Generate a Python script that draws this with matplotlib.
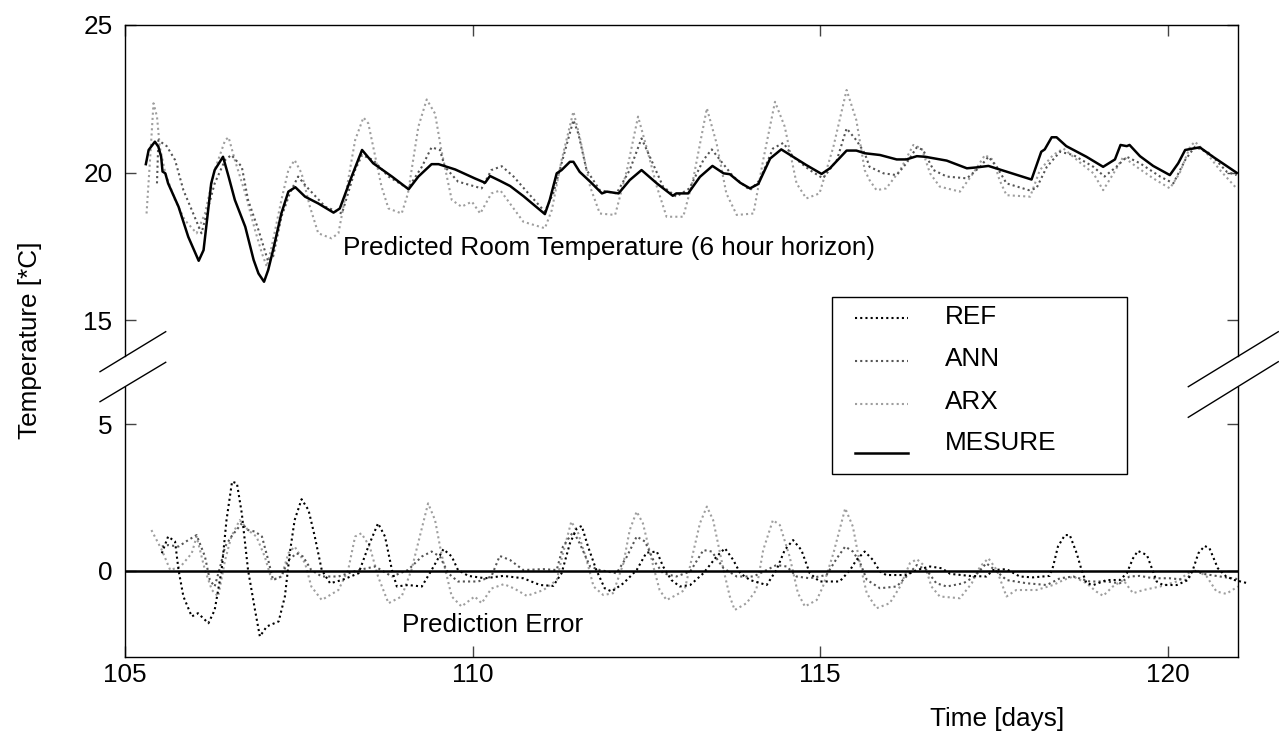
import matplotlib
matplotlib.use("Agg")
import matplotlib.pyplot as plt
from matplotlib.lines import Line2D
from matplotlib.patches import Rectangle

plt.rcParams['font.family'] = ['Liberation Sans', 'DejaVu Sans']

# ---- data: (day, value) ----
measure = [(105.30, 20.29), (105.34, 20.77), (105.43, 21.05), (105.48, 20.88), (105.52, 20.54),
           (105.54, 20.04), (105.58, 19.98), (105.62, 19.64), (105.77, 18.85), (105.91, 17.83),
           (106.06, 17.02), (106.13, 17.38), (106.18, 18.40), (106.24, 19.64), (106.29, 20.09),
           (106.41, 20.54), (106.49, 19.87), (106.58, 19.08), (106.73, 18.17), (106.85, 17.05),
           (106.92, 16.59), (107.00, 16.31), (107.06, 16.71), (107.13, 17.38), (107.25, 18.63),
           (107.35, 19.36), (107.45, 19.51), (107.59, 19.19), (107.78, 18.96), (108.00, 18.65),
           (108.09, 18.79), (108.26, 19.87), (108.41, 20.77), (108.57, 20.32), (108.84, 19.87),
           (109.08, 19.44), (109.22, 19.87), (109.41, 20.29), (109.51, 20.29), (109.75, 20.11),
           (110.03, 19.81), (110.18, 19.66), (110.25, 19.89), (110.39, 19.73), (110.54, 19.55),
           (110.73, 19.21), (111.04, 18.60), (111.11, 19.08), (111.21, 19.98), (111.28, 20.09),
           (111.40, 20.37), (111.45, 20.37), (111.54, 20.03), (111.69, 19.70), (111.86, 19.30),
           (111.93, 19.36), (112.10, 19.30), (112.26, 19.75), (112.43, 20.09), (112.65, 19.64),
           (112.88, 19.22), (112.93, 19.30), (113.10, 19.30), (113.27, 19.86), (113.45, 20.23),
           (113.61, 19.98), (113.70, 19.95), (113.85, 19.66), (113.99, 19.47), (114.11, 19.62),
           (114.28, 20.48), (114.44, 20.79), (114.61, 20.54), (114.80, 20.26), (115.02, 19.96),
           (115.14, 20.15), (115.38, 20.75), (115.52, 20.75), (115.64, 20.66), (115.86, 20.60),
           (116.10, 20.45), (116.24, 20.45), (116.39, 20.56), (116.51, 20.54), (116.82, 20.41),
           (117.11, 20.15), (117.25, 20.18), (117.42, 20.23), (117.73, 20.00), (118.04, 19.77),
           (118.18, 20.71), (118.23, 20.79), (118.33, 21.20), (118.40, 21.20), (118.54, 20.90),
           (118.83, 20.54), (119.07, 20.20), (119.24, 20.45), (119.32, 20.94), (119.41, 20.90),
           (119.45, 20.94), (119.60, 20.56), (119.79, 20.23), (120.03, 19.92), (120.15, 20.32),
           (120.25, 20.77), (120.46, 20.86), (120.65, 20.54), (120.99, 20.00)]

ann = [(105.46, 19.64), (105.48, 21.10), (105.60, 20.90), (105.72, 20.43), (105.84, 19.41),
       (105.96, 18.74), (106.10, 17.95), (106.20, 18.85), (106.29, 19.64), (106.44, 20.43),
       (106.53, 20.60), (106.68, 20.20), (106.77, 19.08), (106.92, 18.06), (107.06, 16.99),
       (107.13, 17.16), (107.25, 18.51), (107.37, 19.30), (107.49, 19.87), (107.61, 19.53),
       (107.88, 18.85), (108.12, 18.62), (108.31, 20.09), (108.41, 20.60), (108.57, 20.43),
       (108.79, 19.87), (109.07, 19.47), (109.27, 20.20), (109.41, 20.86), (109.53, 20.77),
       (109.60, 20.20), (109.79, 19.70), (110.13, 19.47), (110.27, 20.09), (110.42, 20.22),
       (110.59, 19.87), (110.78, 19.36), (111.04, 18.68), (111.16, 19.30), (111.28, 20.32),
       (111.45, 21.78), (111.52, 21.33), (111.64, 20.09), (111.83, 19.41), (112.07, 19.30),
       (112.26, 20.09), (112.43, 21.16), (112.55, 20.54), (112.74, 19.53), (112.93, 19.19),
       (113.12, 19.47), (113.32, 20.43), (113.44, 20.79), (113.56, 20.43), (113.75, 19.87),
       (113.99, 19.41), (114.13, 19.75), (114.32, 20.82), (114.47, 21.01), (114.61, 20.54),
       (114.85, 20.09), (115.04, 19.81), (115.24, 20.43), (115.38, 21.50), (115.52, 21.10),
       (115.64, 20.66), (115.71, 20.20), (115.91, 19.98), (116.10, 19.92), (116.24, 20.32),
       (116.39, 20.86), (116.48, 20.77), (116.63, 20.09), (116.82, 19.87), (117.11, 19.81),
       (117.30, 20.20), (117.42, 20.54), (117.54, 20.20), (117.68, 19.64), (118.00, 19.41),
       (118.11, 19.47), (118.26, 20.20), (118.45, 20.71), (118.64, 20.60), (118.93, 20.20),
       (119.09, 19.87), (119.26, 20.20), (119.41, 20.54), (119.60, 20.32), (119.89, 19.87),
       (120.08, 19.64), (120.25, 20.43), (120.39, 20.88), (120.60, 20.66), (120.85, 20.03),
       (120.99, 19.92)]

arx = [(105.31, 18.62), (105.36, 20.43), (105.41, 22.35), (105.46, 21.90), (105.50, 20.88),
       (105.58, 19.98), (105.72, 19.08), (105.86, 18.40), (106.03, 17.95), (106.15, 18.62),
       (106.29, 20.09), (106.44, 21.10), (106.49, 21.20), (106.58, 20.43), (106.73, 19.30),
       (106.87, 18.06), (106.97, 17.27), (107.04, 16.82), (107.11, 17.50), (107.25, 19.08),
       (107.35, 20.09), (107.44, 20.43), (107.54, 19.98), (107.66, 18.85), (107.78, 17.95),
       (107.97, 17.78), (108.07, 17.95), (108.16, 19.08), (108.31, 21.10), (108.43, 21.87),
       (108.50, 21.67), (108.57, 20.88), (108.69, 19.53), (108.79, 18.79), (108.98, 18.62),
       (109.07, 19.30), (109.22, 21.56), (109.34, 22.48), (109.46, 22.00), (109.55, 20.77),
       (109.70, 19.08), (109.84, 18.85), (109.99, 19.02), (110.11, 18.62), (110.27, 19.30),
       (110.40, 19.40), (110.73, 18.34), (111.04, 18.12), (111.14, 18.74), (111.28, 20.43),
       (111.45, 22.07), (111.54, 21.22), (111.69, 19.53), (111.83, 18.62), (112.05, 18.57),
       (112.22, 20.09), (112.38, 21.90), (112.50, 20.88), (112.65, 19.53), (112.79, 18.51),
       (113.03, 18.51), (113.17, 19.75), (113.37, 22.18), (113.51, 20.99), (113.65, 19.30),
       (113.80, 18.57), (114.04, 18.62), (114.18, 20.43), (114.35, 22.40), (114.49, 21.56),
       (114.66, 19.64), (114.80, 19.13), (114.99, 19.30), (115.19, 20.88), (115.38, 22.80),
       (115.52, 21.78), (115.64, 20.09), (115.71, 19.75), (115.81, 19.41), (115.95, 19.47),
       (116.15, 20.09), (116.34, 20.94), (116.46, 20.82), (116.58, 19.98), (116.72, 19.53),
       (117.01, 19.36), (117.20, 19.98), (117.37, 20.60), (117.49, 20.43), (117.58, 19.75),
       (117.68, 19.24), (118.02, 19.19), (118.16, 20.09), (118.35, 20.60), (118.50, 20.82),
       (118.75, 20.32), (118.93, 19.98), (119.07, 19.41), (119.22, 19.98), (119.36, 20.54),
       (119.55, 20.20), (119.79, 19.81), (120.03, 19.47), (120.17, 19.98), (120.32, 20.88),
       (120.39, 21.05), (120.56, 20.66), (120.75, 20.09), (120.99, 19.47)]

ref_err = [(105.53, 0.60), (105.62, 1.17), (105.72, 1.00), (105.77, 0.03), (105.84, -0.87),
           (105.96, -1.55), (106.05, -1.44), (106.20, -1.78), (106.29, -1.33), (106.39, 0.03),
           (106.46, 1.73), (106.54, 3.04), (106.61, 2.98), (106.68, 1.96), (106.77, 0.03),
           (106.87, -1.33), (106.94, -2.23), (107.04, -1.89), (107.21, -1.72), (107.30, -0.87),
           (107.37, 0.60), (107.44, 1.73), (107.54, 2.44), (107.64, 2.07), (107.73, 1.17),
           (107.83, 0.03), (107.95, -0.42), (108.12, -0.31), (108.36, -0.08), (108.50, 0.83),
           (108.64, 1.62), (108.74, 1.17), (108.84, 0.03), (108.91, -0.53), (109.07, -0.48),
           (109.27, -0.53), (109.41, 0.03), (109.58, 0.74), (109.70, 0.49), (109.79, 0.03),
           (109.94, -0.17), (110.18, -0.25), (110.44, -0.17), (110.73, -0.25), (110.97, -0.48),
           (111.16, -0.51), (111.28, -0.08), (111.40, 0.94), (111.50, 1.45), (111.57, 1.53),
           (111.66, 0.83), (111.78, 0.03), (111.90, -0.59), (112.00, -0.70), (112.17, -0.42),
           (112.36, 0.03), (112.50, 0.62), (112.65, 0.66), (112.74, 0.15), (112.86, -0.31),
           (112.98, -0.53), (113.13, -0.48), (113.32, -0.08), (113.51, 0.49), (113.63, 0.77),
           (113.75, 0.37), (113.85, -0.08), (113.99, -0.31), (114.23, -0.48), (114.37, 0.03),
           (114.49, 0.71), (114.61, 1.05), (114.73, 0.71), (114.85, -0.08), (114.99, -0.36),
           (115.28, -0.36), (115.43, 0.03), (115.52, 0.37), (115.64, 0.66), (115.76, 0.37),
           (115.86, -0.02), (115.95, -0.14), (116.24, -0.14), (116.39, 0.03), (116.58, 0.15),
           (116.75, 0.09), (116.87, -0.10), (117.15, -0.17), (117.39, -0.19), (117.49, 0.03),
           (117.68, 0.06), (117.87, -0.19), (118.06, -0.22), (118.30, -0.17), (118.35, 0.15),
           (118.42, 0.83), (118.52, 1.22), (118.59, 1.22), (118.69, 0.60), (118.76, 0.03),
           (118.83, -0.42), (118.93, -0.48), (119.12, -0.31), (119.31, -0.31), (119.41, -0.08),
           (119.50, 0.43), (119.57, 0.68), (119.70, 0.54), (119.78, 0.03), (119.84, -0.36),
           (119.93, -0.48), (120.13, -0.48), (120.29, -0.31), (120.36, 0.03), (120.44, 0.60),
           (120.53, 0.85), (120.60, 0.77), (120.72, 0.09), (120.84, -0.19), (120.96, -0.31),
           (121.15, -0.42)]

ann_err = [(105.53, 0.83), (105.62, 0.88), (105.77, 0.83), (105.91, 1.05), (106.03, 1.22),
           (106.15, 0.49), (106.22, -0.31), (106.29, -0.53), (106.37, 0.15), (106.44, 0.83),
           (106.53, 1.17), (106.68, 1.62), (106.77, 1.39), (106.87, 1.34), (106.97, 1.17),
           (107.06, 0.37), (107.13, -0.31), (107.25, -0.19), (107.35, 0.37), (107.47, 0.60),
           (107.56, 0.49), (107.68, 0.03), (107.83, -0.19), (108.07, -0.19), (108.36, 0.03),
           (108.60, 0.15), (108.84, -0.19), (109.07, 0.03), (109.27, 0.49), (109.41, 0.66),
           (109.53, 0.49), (109.65, -0.08), (109.79, -0.36), (110.08, -0.36), (110.27, -0.19),
           (110.39, 0.51), (110.54, 0.37), (110.73, 0.03), (111.02, 0.06), (111.21, 0.03),
           (111.30, 0.83), (111.45, 1.34), (111.54, 0.94), (111.69, 0.15), (111.83, 0.03),
           (112.07, -0.08), (112.22, 0.49), (112.36, 1.17), (112.48, 1.00), (112.60, 0.37),
           (112.74, -0.08), (112.93, -0.19), (113.13, -0.02), (113.32, 0.71), (113.44, 0.66),
           (113.61, 0.09), (113.80, -0.19), (114.04, -0.19), (114.23, 0.03), (114.37, 0.20),
           (114.52, 0.15), (114.66, -0.19), (114.85, -0.25), (115.09, -0.14), (115.24, 0.43),
           (115.36, 0.83), (115.47, 0.66), (115.57, 0.30), (115.67, -0.30), (115.86, -0.59),
           (116.10, -0.53), (116.24, -0.19), (116.39, 0.20), (116.53, 0.03), (116.67, -0.42),
           (116.82, -0.53), (117.06, -0.42), (117.22, -0.19), (117.39, 0.26), (117.54, -0.02),
           (117.68, -0.31), (117.97, -0.42), (118.26, -0.48), (118.45, -0.25), (118.64, -0.19),
           (118.88, -0.36), (119.12, -0.36), (119.31, -0.42), (119.45, -0.19), (119.60, -0.17),
           (119.79, -0.25), (120.03, -0.25), (120.27, -0.31), (120.36, 0.03), (120.51, -0.10),
           (120.75, -0.19), (121.01, -0.28)]

arx_err = [(105.38, 1.39), (105.53, 0.71), (105.65, 0.03), (105.80, 0.15), (105.96, 0.60),
           (106.03, 1.17), (106.15, 0.03), (106.25, -0.65), (106.34, -0.87), (106.44, 0.37),
           (106.53, 1.17), (106.65, 1.73), (106.77, 1.39), (106.89, 1.17), (107.01, 0.49),
           (107.11, -0.31), (107.25, -0.19), (107.35, 0.60), (107.44, 0.83), (107.59, 0.26),
           (107.68, -0.53), (107.83, -0.99), (108.07, -0.65), (108.21, 0.03), (108.31, 1.17),
           (108.40, 1.28), (108.52, 0.83), (108.64, -0.19), (108.79, -1.10), (108.98, -0.87),
           (109.12, 0.03), (109.24, 1.17), (109.36, 2.30), (109.46, 1.73), (109.55, 0.60),
           (109.70, -0.87), (109.84, -1.21), (110.03, -0.87), (110.13, -1.10), (110.27, -0.60),
           (110.45, -0.45), (110.60, -0.60), (110.78, -0.85), (111.02, -0.65), (111.21, -0.31),
           (111.30, 0.60), (111.42, 1.68), (111.52, 1.28), (111.64, 0.37), (111.74, -0.53),
           (111.88, -0.82), (112.02, -0.76), (112.17, 0.26), (112.26, 1.39), (112.36, 2.02),
           (112.45, 1.62), (112.60, 0.15), (112.69, -0.65), (112.79, -0.99), (112.93, -0.82),
           (113.05, -0.65), (113.17, 0.60), (113.27, 1.62), (113.37, 2.19), (113.46, 1.73),
           (113.61, 0.03), (113.70, -0.87), (113.77, -1.33), (113.94, -1.10), (114.08, -0.65),
           (114.18, 0.71), (114.32, 1.73), (114.42, 1.56), (114.56, 0.49), (114.68, -0.76),
           (114.78, -1.21), (114.95, -0.99), (115.04, -0.53), (115.19, 0.60), (115.36, 2.13),
           (115.47, 1.51), (115.57, 0.26), (115.67, -0.76), (115.81, -1.27), (116.00, -1.10),
           (116.15, -0.53), (116.29, 0.26), (116.39, 0.40), (116.51, 0.15), (116.60, -0.53),
           (116.72, -0.87), (117.01, -0.93), (117.18, -0.42), (117.30, 0.15), (117.42, 0.43),
           (117.54, 0.03), (117.68, -0.87), (117.82, -0.65), (118.11, -0.65), (118.35, -0.48),
           (118.50, -0.31), (118.64, -0.19), (118.83, -0.42), (118.97, -0.70), (119.07, -0.85),
           (119.21, -0.53), (119.36, -0.31), (119.50, -0.76), (119.65, -0.65), (119.89, -0.53),
           (120.13, -0.36), (120.29, -0.08), (120.41, 0.03), (120.56, -0.19), (120.70, -0.70),
           (120.84, -0.78), (121.01, -0.53)]

xlim = (105, 121.01)
x_ticks = [105, 110, 115, 120]
upper_ticks = [15, 20, 25]
lower_ticks = [0, 5]

W, H = 1279, 742
FS = 18.8


def px(x, y):
    # pixel position -> figure fraction
    return x / W, 1 - y / H


def split(pts):
    return [p[0] for p in pts], [p[1] for p in pts]


dot = (0, (1, 1.5))
styles = {
    'REF': dict(color='black', lw=1.5, ls=dot),
    'ANN': dict(color='#555555', lw=1.5, ls=dot),
    'ARX': dict(color='#9e9e9e', lw=1.5, ls=dot),
    'MESURE': dict(color='black', lw=1.8, ls='-'),
}

fig = plt.figure(figsize=(W / 100, H / 100), dpi=100)
left, width = px(125, 0)[0], 1113 / W
ax_top = fig.add_axes([left, px(0, 356.5)[1], width, (356.5 - 25) / H])
ax_bot = fig.add_axes([left, px(0, 657)[1], width, (657 - 386.7) / H])

ax_top.plot(*split(arx), **styles['ARX'])
ax_top.plot(*split(ann), **styles['ANN'])
ax_top.plot(*split(measure), **styles['MESURE'])

ax_bot.plot(*split(arx_err), **styles['ARX'])
ax_bot.plot(*split(ann_err), **styles['ANN'])
ax_bot.plot(*split(ref_err), clip_on=False, **styles['REF'])
ax_bot.axhline(0, color='black', lw=1.8)

ax_top.set_ylim(13.78, 25)
ax_bot.set_ylim(-2.93, 6.27)

for ax in (ax_top, ax_bot):
    ax.set_xlim(*xlim)
    ax.set_xticks(x_ticks)
    for s in ax.spines.values():
        s.set_linewidth(1.0)
    ax.tick_params(direction='in', length=8, width=1, color='#444444',
                   labelsize=FS, pad=9)
ax_top.set_yticks(upper_ticks)
ax_bot.set_yticks(lower_ticks)

ax_top.spines['bottom'].set_visible(False)
ax_bot.spines['top'].set_visible(False)
ax_top.tick_params(top=True, bottom=False, right=True, labelbottom=False)
ax_bot.tick_params(top=False, bottom=True, right=True)
ax_bot.tick_params(axis='x', pad=4.5)

ax_top.text(108.14, 17.45, 'Predicted Room Temperature (6 hour horizon)',
            fontsize=FS, ha='left', va='center')
ax_bot.text(108.98, -1.84, 'Prediction Error', fontsize=FS, ha='left', va='center')

# break marks
for (x0, y0, x1, y1) in [(100, 371.7, 165.7, 331.7), (100, 401.7, 165.7, 362.3),
                         (1188.3, 386.7, 1278.3, 331.7), (1188.3, 417.3, 1278.3, 361.7)]:
    a, b = px(x0, y0)
    c, d = px(x1, y1)
    fig.add_artist(Line2D([a, c], [b, d], color='black', lw=1.0))

# legend box
bx, by = px(832, 474)
fig.add_artist(Rectangle((bx, by), (1127 - 832) / W, (474 - 297) / H,
                         facecolor='white', edgecolor='black', lw=1.0, zorder=5))
rows = [('REF', 316.7, 318), ('ANN', 359, 361), ('ARX', 401.7, 403.5), ('MESURE', 443.3, 452.7)]
for name, ty, ly in rows:
    a, b = px(855, ly)
    c, _ = px(908, ly)
    fig.add_artist(Line2D([a, c], [b, b], zorder=6, **styles[name]))
    tx, tyf = px(945, ty)
    fig.text(tx, tyf, name, fontsize=FS, ha='left', va='center', zorder=6)

fig.text(*px(30, 340), 'Temperature [*C]', fontsize=FS, rotation=90,
         ha='center', va='center')
fig.text(*px(997, 719), 'Time [days]', fontsize=FS, ha='center', va='center')

fig.savefig('out.png', dpi=100)
